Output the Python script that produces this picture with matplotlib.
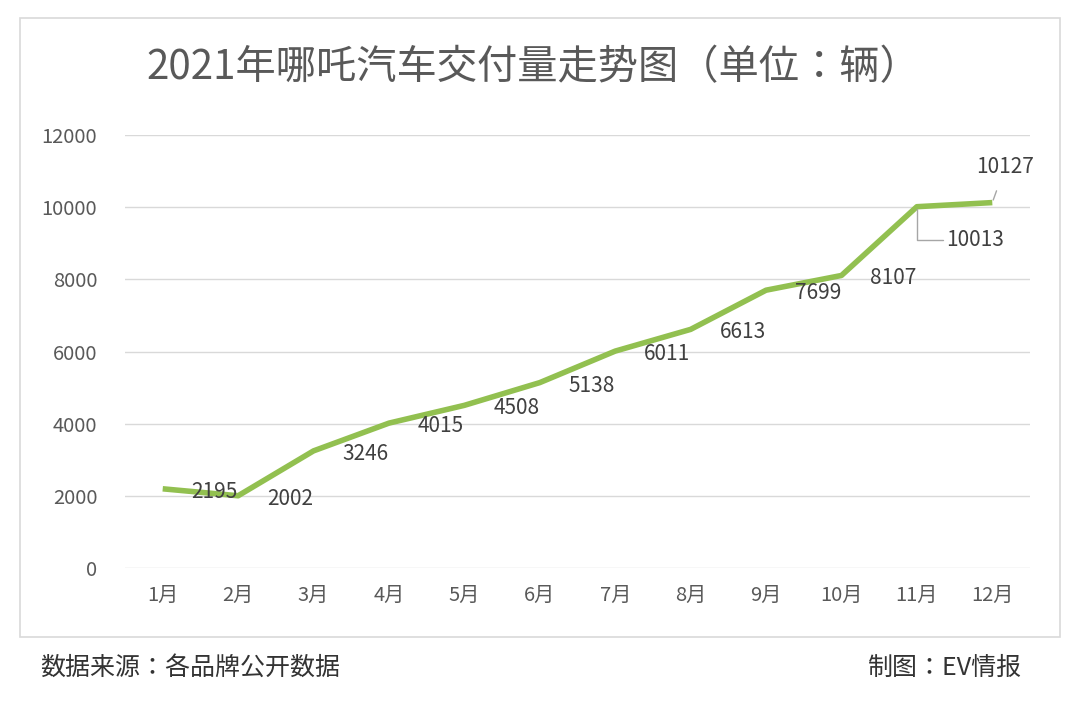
import matplotlib
matplotlib.use("Agg")
import matplotlib.pyplot as plt
from matplotlib import font_manager
from matplotlib.patches import Rectangle

cjk = sorted({f.name for f in font_manager.fontManager.ttflist if "CJK" in f.name})
plt.rcParams["font.family"] = ["Noto Sans CJK SC", "Noto Sans CJK JP"] + cjk + ["DejaVu Sans"]

months = ["1月", "2月", "3月", "4月", "5月", "6月", "7月", "8月", "9月", "10月", "11月", "12月"]
deliveries = [2195, 2002, 3246, 4015, 4508, 5138, 6011, 6613, 7699, 8107, 10013, 10127]
y_ticks = [0, 2000, 4000, 6000, 8000, 10000, 12000]

W, H = 1080, 703
fig = plt.figure(figsize=(W / 100, H / 100), dpi=100)
fig.patches.append(Rectangle((20 / W, 1 - 637 / H), 1040 / W, 619 / H,
                             transform=fig.transFigure, fill=False,
                             edgecolor="#d9d9d9", linewidth=1.2))
ax = fig.add_axes([125 / W, 1 - 568 / H, 905 / W, 433 / H])

x = range(len(months))
ax.plot(x, deliveries, color="#92c050", linewidth=4, solid_capstyle="butt")
ax.set_xlim(-0.5, len(months) - 0.5)
ax.set_ylim(0, 12000)
ax.set_yticks(y_ticks)
ax.set_yticklabels([str(v) for v in y_ticks])
ax.set_xticks(list(x))
ax.set_xticklabels(months)
ax.grid(axis="y", color="#d9d9d9", linewidth=1)
ax.set_axisbelow(True)
for s in ax.spines.values():
    s.set_visible(False)
ax.tick_params(length=0, labelsize=14.5, colors="#595959", pad=12)
ax.tick_params(axis="y", pad=20)

for i, v in enumerate(deliveries):
    if i == 10:
        ax.annotate(str(v), (i, v), xytext=(58, -33), textcoords="offset pixels",
                    ha="center", va="center", fontsize=15, color="#404040",
                    arrowprops=dict(arrowstyle="-", color="#a6a6a6", lw=1,
                                    shrinkA=0, shrinkB=2, relpos=(0, 0.5),
                                    connectionstyle="angle,angleA=0,angleB=90"))
    elif i == 11:
        ax.annotate(str(v), (i, v), xytext=(13, 36), textcoords="offset pixels",
                    ha="center", va="center", fontsize=15, color="#404040",
                    arrowprops=dict(arrowstyle="-", color="#a6a6a6", lw=1,
                                    shrinkA=8, shrinkB=2))
    else:
        ax.annotate(str(v), (i, v), xytext=(52, -3), textcoords="offset pixels",
                    ha="center", va="center", fontsize=15, color="#404040")

fig.text(533 / W, 1 - 68 / H, "2021年哪吒汽车交付量走势图（单位：辆）",
         ha="center", va="center", fontsize=29, color="#595959")
fig.text(40 / W, 1 - 668 / H, "数据来源：各品牌公开数据", ha="left", va="center",
         fontsize=18, color="#333333")
fig.text(1022 / W, 1 - 668 / H, "制图：EV情报", ha="right", va="center",
         fontsize=18, color="#333333")

fig.savefig("out.png", dpi=100)
